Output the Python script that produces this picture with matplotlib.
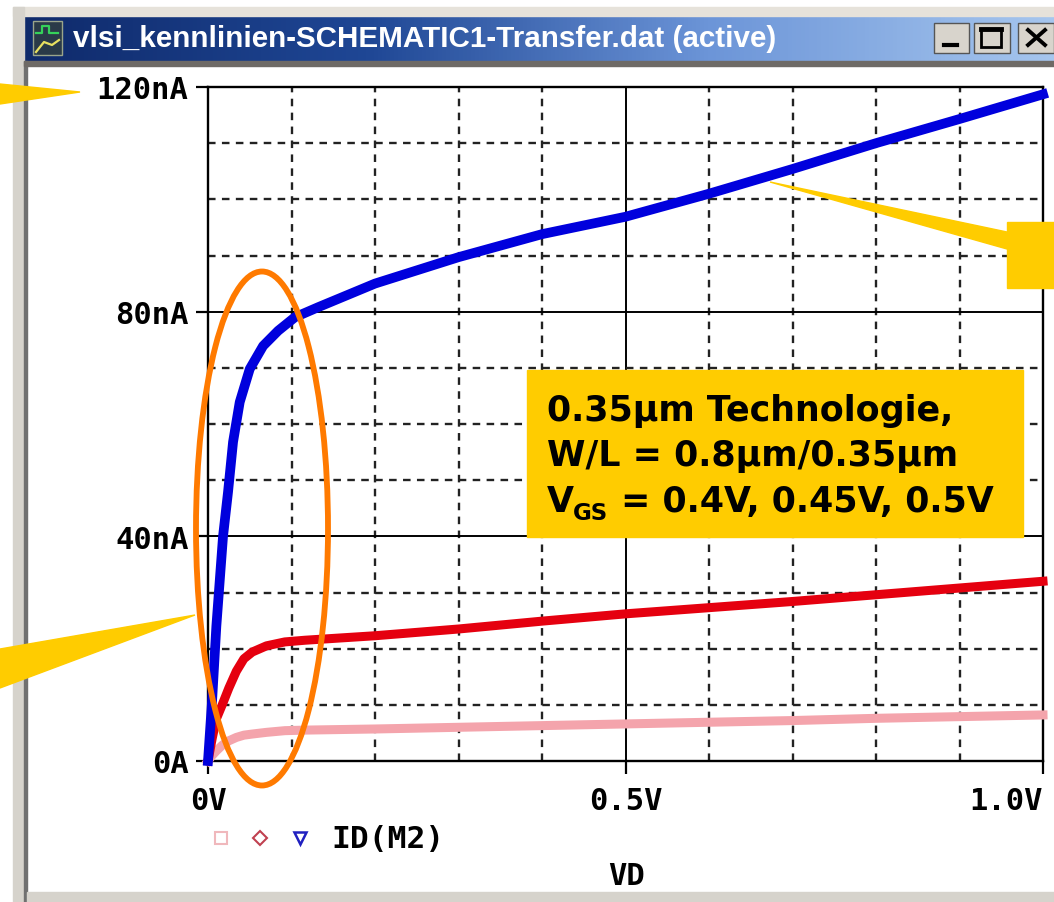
import numpy as np
import matplotlib
matplotlib.use("Agg")
import matplotlib.pyplot as plt
from matplotlib.colors import LinearSegmentedColormap
from matplotlib.patches import Ellipse, Polygon, Rectangle

W, H = 1054, 903

vd_high = [0, 0.005, 0.01, 0.018, 0.024, 0.030, 0.038, 0.050, 0.066, 0.084, 0.104, 0.132, 0.2, 0.3, 0.4, 0.5, 0.6, 0.7, 0.8, 0.9, 1.0]
id_high = [0, 11, 24, 40, 47.9, 56.8, 63.9, 69.8, 73.9, 76.6, 79, 80.8, 85, 89.7, 93.8, 96.9, 101, 105.4, 110, 114.3, 118.7]
vd = [0, 0.005, 0.01, 0.017, 0.025, 0.034, 0.043, 0.053, 0.07, 0.092, 0.116, 0.2, 0.3, 0.4, 0.5, 0.6, 0.7, 0.8, 0.9, 1.0]
id_mid = [0, 4, 7.5, 10, 13, 16, 18.2, 19.4, 20.5, 21.2, 21.5, 22.3, 23.5, 24.9, 26.2, 27.3, 28.4, 29.6, 30.8, 32]
id_low = [0, 1, 1.8, 2.8, 3.6, 4.2, 4.6, 4.8, 5.1, 5.4, 5.5, 5.7, 6, 6.3, 6.6, 6.9, 7.2, 7.6, 7.9, 8.2]

x_ticks = [0, 0.5, 1.0]
x_labels = ["0V", "0.5V", "1.0V"]
y_ticks = [0, 40, 80, 120]
y_labels = ["0A", "40nA", "80nA", "120nA"]
x_minor = [0.1, 0.2, 0.3, 0.4, 0.6, 0.7, 0.8, 0.9]
y_minor = [10, 20, 30, 50, 60, 70, 90, 100, 110]

title = "vlsi_kennlinien-SCHEMATIC1-Transfer.dat (active)"
YELLOW = "#FFCC00"
MONO = "DejaVu Sans Mono"

fig = plt.figure(figsize=(W / 100, H / 100), dpi=100, facecolor="white")

# plot area, placed by pixel position
ax = fig.add_axes([208 / W, 1 - 762 / H, (1043 - 208) / W, (762 - 88) / H])
ax.set_xlim(0, 1)
ax.set_ylim(0, 120)
ax.set_xticks(x_ticks, x_labels, family=MONO, weight="bold", fontsize=22)
ax.set_yticks(y_ticks, y_labels, family=MONO, weight="bold", fontsize=22)
ax.set_xticks(x_minor, minor=True)
ax.set_yticks(y_minor, minor=True)
ax.tick_params(which="major", length=9, width=1.6)
ax.tick_params(axis="x", which="major", pad=9)
ax.tick_params(axis="y", which="major", pad=5)
ax.tick_params(which="minor", length=0)
ax.get_xticklabels()[-1].set_ha("right")
ax.grid(which="minor", color="#222222", lw=1.7, ls=(0, (3.2, 2.7)))
ax.grid(which="major", color="black", lw=1.4)
for s in ax.spines.values():
    s.set_linewidth(1.7)

ax.plot(vd, id_low, color="#F4A4AC", lw=6.5, clip_on=False, zorder=5)
ax.plot(vd, id_mid, color="#E5000F", lw=6.5, clip_on=False, zorder=6)
ax.plot(vd_high, id_high, color="#0000DD", lw=7, clip_on=False, zorder=7)

# everything around the plot, in image pixels
ov = fig.add_axes([0, 0, 1, 1], facecolor="none")
bar = LinearSegmentedColormap.from_list("bar", ["#0F2A6B", "#1F4795", "#6C95D8", "#A6C6EE"])
ov.imshow(np.linspace(0, 1, 256).reshape(1, -1), cmap=bar, aspect="auto",
          extent=(24, W, 62, 17), zorder=1)
ov.set_xlim(0, W)
ov.set_ylim(H, 0)
ov.axis("off")

ov.add_patch(Rectangle((13, 8), W - 13, 9, color="#E6E2DA", zorder=1))
ov.add_patch(Rectangle((13, 8), 11, H - 8, color="#D6D3CC", zorder=1))
ov.add_patch(Rectangle((24, 62), 3, H - 62, color="#707070", zorder=1))
ov.add_patch(Rectangle((24, 62), W - 24, 5, color="#6E6A66", zorder=1))
ov.add_patch(Rectangle((27, 893), W - 27, 10, color="#D6D3CC", zorder=1))

ov.add_patch(Rectangle((33, 22), 29, 34, fc="#2A3A48", ec="#9AA58A", lw=1, zorder=2))
ov.plot([36, 42, 42, 49, 49, 58], [34, 34, 27, 27, 34, 34], color="#35D25A", lw=1.6, zorder=3)
ov.plot([36, 44, 52, 59], [53, 43, 46, 41], color="#E8E060", lw=1.6, zorder=3)
ov.text(73, 39, title, color="white", family="Liberation Sans", weight="bold",
        fontsize=21.3, va="center", ha="left", zorder=3)

# window buttons
for bx, bw in [(934, 35), (974, 36), (1018, 36)]:
    ov.add_patch(Rectangle((bx, 24), bw, 30, fc="#D8D4CC", ec="#555555", lw=1, zorder=2))
ov.plot([944, 957], [46, 46], color="black", lw=3, zorder=3)
ov.add_patch(Rectangle((981, 30), 20, 18, fc="none", ec="black", lw=2, zorder=3))
ov.plot([981, 1001], [30, 30], color="black", lw=3.5, zorder=3)
ov.plot([1028, 1045], [31, 46], color="black", lw=2.8, zorder=3)
ov.plot([1028, 1045], [46, 31], color="black", lw=2.8, zorder=3)

# callouts
ov.add_patch(Polygon([(0, 85), (80, 93), (0, 105)], color=YELLOW, zorder=8))
ov.add_patch(Polygon([(0, 650), (195, 616), (0, 689)], color=YELLOW, zorder=8))
ov.add_patch(Polygon([(770, 183), (1007, 233), (1007, 250)], color=YELLOW, zorder=8))
ov.add_patch(Rectangle((1007, 223), W - 1007, 66, color=YELLOW, zorder=8))
ov.add_patch(Ellipse((262, 529.5), 132, 514, fc="none", ec="#FF7A00", lw=4.2, zorder=9))

ov.add_patch(Rectangle((527, 371), 496, 167, color=YELLOW, zorder=8))
for tx, ty, line, size in [(547, 411, "0.35µm Technologie,", 25.1), (547, 456, "W/L = 0.8µm/0.35µm", 25.1),
                           (547, 502, "V", 25.1), (573, 514, "GS", 16.5), (621, 502, "= 0.4V, 0.45V, 0.5V", 25.1)]:
    ov.text(tx, ty, line, color="black", family="DejaVu Sans", weight="bold",
            fontsize=size, va="center", ha="left", zorder=9)

# legend and axis name
ov.plot(221, 839, marker="s", ms=8, mfc="none", mec="#F0B8BC", mew=1.5, zorder=3)
ov.plot(260, 839, marker="D", ms=7, mfc="none", mec="#C04050", mew=1.5, zorder=3)
ov.plot(300, 839, marker="v", ms=9, mfc="none", mec="#2020C0", mew=1.8, zorder=3)
ov.text(331, 840, "ID(M2)", family=MONO, weight="bold", fontsize=22.5, va="center", ha="left", zorder=3)
ov.text(627, 877, "VD", family=MONO, weight="bold", fontsize=22, va="center", ha="center", zorder=3)

fig.savefig("out.png", dpi=100)
